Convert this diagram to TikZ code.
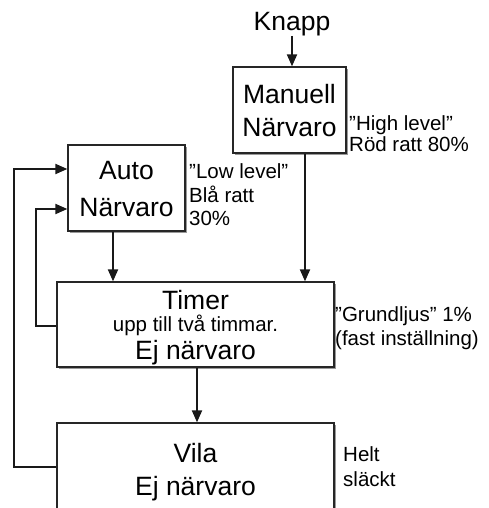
\documentclass[tikz,border=0pt]{standalone}
\usepackage{fontspec}
\setmainfont{Liberation Sans}
\usetikzlibrary{arrows.meta,shadows}
\tikzset{
  box/.style={draw=black!85, line width=1.3pt, fill=white, rectangle, inner sep=0pt,
    drop shadow={shadow xshift=2pt, shadow yshift=-2pt, fill=black!40, opacity=1}},
  big/.style={font=\fontsize{26.5}{28}\selectfont, anchor=base, inner sep=0pt},
  small/.style={font=\fontsize{20.5}{23}\selectfont, anchor=base west, inner sep=0pt, align=left},
  mid/.style={font=\fontsize{20.5}{23}\selectfont, anchor=base, inner sep=0pt},
  conn/.style={line width=2pt, draw=black!90, -{Triangle[length=12pt,width=10pt]}},
}
\begin{document}
\begin{tikzpicture}[x=1pt,y=-1pt]
\useasboundingbox (0,0) rectangle (489,508);
% boxes
\node[box, minimum width=113pt, minimum height=86pt] (man) at (289.5,110) {};
\node[box, minimum width=117pt, minimum height=86pt] (auto) at (126.5,188) {};
\node[box, minimum width=277pt, minimum height=85pt] (timer) at (195.5,324.5) {};
\node[box, minimum width=277pt, minimum height=100pt] (vila) at (195.5,473) {};
% texts
\node[big] (knapp) at (292,31) {Knapp};
\node[big] (man1) at (289.5,103) {Manuell};
\node[big] (man2) at (289.5,136) {Närvaro};
\node[big] (auto1) at (126.5,179) {Auto};
\node[big] (auto2) at (126.5,216) {Närvaro};
\node[big] (tim1) at (195.5,309) {Timer};
\node[mid] (tim2) at (195.5,331) {upp till två timmar.};
\node[big] (tim3) at (195.5,359) {Ej närvaro};
\node[big] (vila1) at (195.5,462) {Vila};
\node[big] (vila2) at (195.5,495) {Ej närvaro};
% side labels
\node[small] (hi1) at (349,130) {”High level”};
\node[small] (hi2) at (349,151) {Röd ratt 80\%};
\node[small] (lo1) at (189,178) {”Low level”};
\node[small] (lo2) at (189,202) {Blå ratt};
\node[small] (lo3) at (189,225) {30\%};
\node[small] (gr1) at (335,321) {”Grundljus” 1\%};
\node[small] (gr2) at (335,345) {(fast inställning)};
\node[small] (he1) at (343,461) {Helt};
\node[small] (he2) at (343,486) {släckt};
% connectors
\coordinate (kb) at (292,36);
\draw[conn] (kb) -- (kb |- man.north);
\draw[conn] (man.south -| 305,0) -- (timer.north -| 305,0);
\draw[conn] (auto.south -| 113,0) -- (timer.north -| 113,0);
\draw[conn] (timer.south -| 197,0) -- (vila.north -| 197,0);
\draw[conn] (timer.west |- 0,326) -- (36,326) -- (36,209) -- (auto.west |- 0,209);
\draw[conn] (vila.west |- 0,467) -- (14,467) -- (14,169) -- (auto.west |- 0,169);
\end{tikzpicture}
\end{document}
